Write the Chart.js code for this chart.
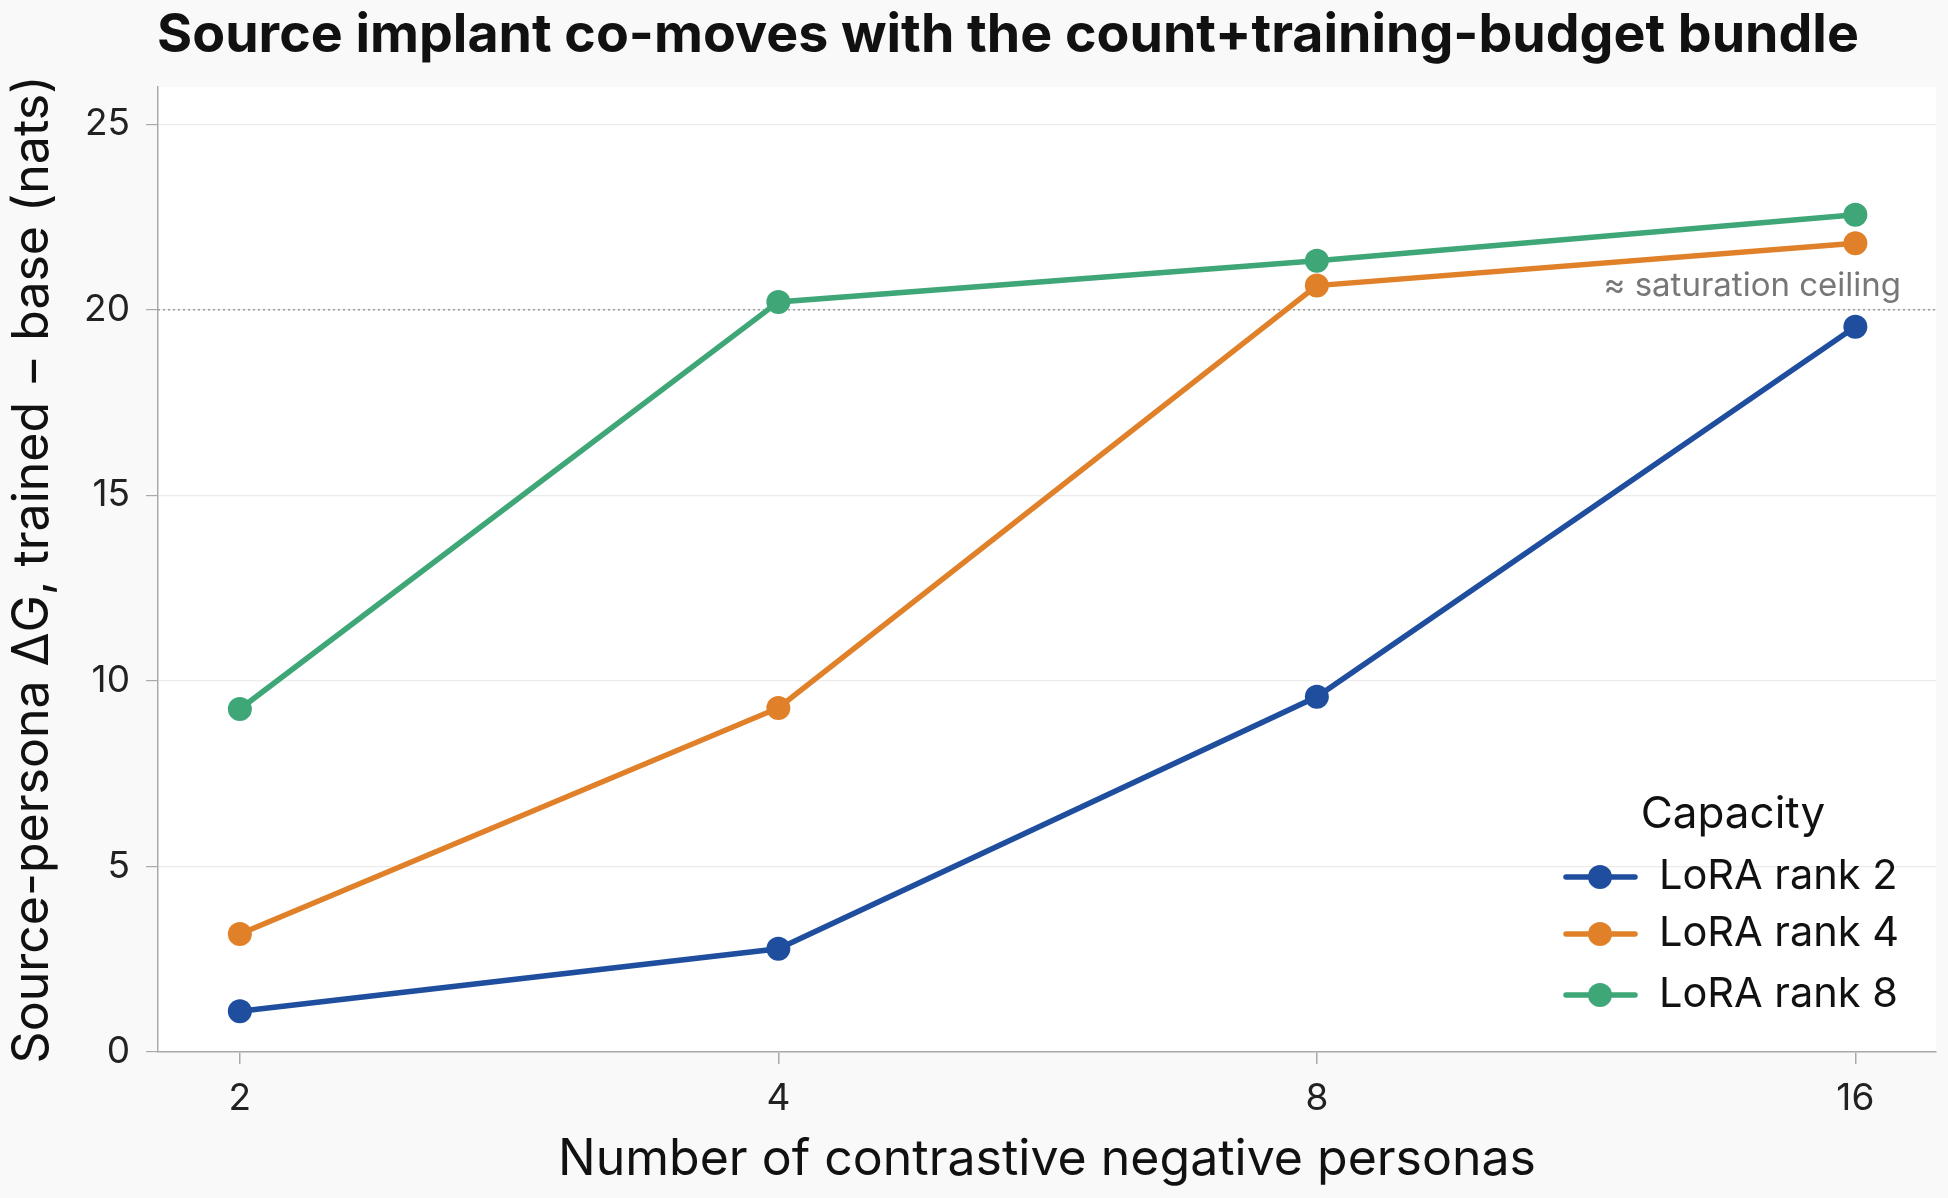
<!DOCTYPE html>
<html>
<head>
<meta charset="utf-8">
<script src="https://cdn.jsdelivr.net/npm/chart.js@4.4.1/dist/chart.umd.min.js"></script>
<style>
  html, body { margin: 0; padding: 0; background: #f9f9f9; }
  #wrap { width: 1948px; height: 1198px; }
</style>
</head>
<body>
<div id="wrap"><canvas id="capacityChart" width="1948" height="1198"></canvas></div>
<script>
// data
const personaCounts = [2, 4, 8, 16];
const loraRank2 = [1.1, 2.78, 9.57, 19.54];
const loraRank4 = [3.18, 9.27, 20.65, 21.79];
const loraRank8 = [9.24, 20.21, 21.32, 22.56];
const seriesNames = ['LoRA rank 2', 'LoRA rank 4', 'LoRA rank 8'];
const yTickValues = [0, 5, 10, 15, 20, 25];
const saturationLevel = 20;

const colors = ['#1f4e9f', '#e0812a', '#3ea677'];
const FONT = 'Inter, "DejaVu Sans", sans-serif';

function toPoints(vals) {
    return personaCounts.map(function (x, i) { return { x: x, y: vals[i] }; });
}

// background: grey page, white plot area
const bgPlugin = {
    id: 'bg',
    beforeDraw: function (chart) {
        const c = chart.ctx, a = chart.chartArea;
        c.save();
        c.fillStyle = '#f9f9f9';
        c.fillRect(0, 0, chart.width, chart.height);
        c.fillStyle = '#ffffff';
        c.fillRect(a.left, a.top, a.right - a.left, a.bottom - a.top);
        c.restore();
    }
};

// dotted ceiling line + label
const ceilingPlugin = {
    id: 'ceiling',
    beforeDatasetsDraw: function (chart) {
        const c = chart.ctx, a = chart.chartArea;
        const y = chart.scales.y.getPixelForValue(saturationLevel);
        c.save();
        c.strokeStyle = '#9a9a9a';
        c.lineWidth = 1.5;
        c.setLineDash([2, 3]);
        c.beginPath();
        c.moveTo(a.left, y);
        c.lineTo(a.right, y);
        c.stroke();
        c.setLineDash([]);
        c.fillStyle = '#777777';
        c.font = '33px ' + FONT;
        c.textAlign = 'right';
        c.textBaseline = 'alphabetic';
        c.fillText('\u2248 saturation ceiling', a.right - 35, y - 14);
        c.restore();
    }
};

// title centred like the original
const titlePlugin = {
    id: 'topTitle',
    afterDraw: function (chart) {
        const c = chart.ctx;
        c.save();
        c.fillStyle = '#111111';
        c.font = 'bold 53.7px ' + FONT;
        c.textAlign = 'center';
        c.textBaseline = 'middle';
        c.fillText('Source implant co-moves with the count+training-budget bundle', 1008, 36);
        c.restore();
    }
};

// legend inside the plot, lower right
const legendPlugin = {
    id: 'innerLegend',
    afterDraw: function (chart) {
        const c = chart.ctx;
        c.save();
        c.fillStyle = '#111111';
        c.font = '44px ' + FONT;
        c.textAlign = 'center';
        c.textBaseline = 'middle';
        c.fillText('Capacity', 1733, 815);
        c.font = '41.5px ' + FONT;
        const rowY = [877, 934, 995];
        chart.data.datasets.forEach(function (ds, i) {
            const y = rowY[i];
            c.strokeStyle = ds.borderColor;
            c.lineWidth = 5.5;
            c.lineCap = 'round';
            c.beginPath();
            c.moveTo(1566, y);
            c.lineTo(1635, y);
            c.stroke();
            c.fillStyle = ds.borderColor;
            c.beginPath();
            c.arc(1600, y, 12, 0, Math.PI * 2);
            c.fill();
            c.fillStyle = '#111111';
            c.textAlign = 'left';
            c.fillText(ds.label, 1659, y);
        });
        c.restore();
    }
};

new Chart(document.getElementById('capacityChart').getContext('2d'), {
    type: 'line',
    data: {
        datasets: [loraRank2, loraRank4, loraRank8].map(function (vals, i) {
            return {
                label: seriesNames[i],
                data: toPoints(vals),
                borderColor: colors[i],
                backgroundColor: colors[i],
                borderWidth: 5.5,
                pointRadius: 12,
                pointHoverRadius: 12,
                pointBorderWidth: 0,
                tension: 0,
                fill: false
            };
        })
    },
    options: {
        responsive: false,
        animation: false,
        devicePixelRatio: 1,
        layout: { padding: { top: 87, right: 12, bottom: 0, left: 0 } },
        plugins: {
            legend: { display: false },
            title: { display: false },
            tooltip: { enabled: false }
        },
        scales: {
            x: {
                type: 'logarithmic',
                min: 1.8,
                max: 17.75,
                afterBuildTicks: function (scale) {
                    scale.ticks = personaCounts.map(function (v) { return { value: v }; });
                },
                afterFit: function (scale) { scale.height = 146; },
                grid: { drawOnChartArea: false, drawTicks: true, tickLength: 12, color: '#aaaaaa', lineWidth: 1.5 },
                border: { color: '#aaaaaa', width: 1.5 },
                ticks: {
                    padding: 13,
                    color: '#222222',
                    font: { family: FONT, size: 37 },
                    maxRotation: 0,
                    callback: function (v) { return String(v); }
                },
                title: {
                    display: true,
                    text: 'Number of contrastive negative personas',
                    color: '#111111',
                    font: { family: FONT, size: 50 },
                    padding: { top: 0, bottom: 8 }
                }
            },
            y: {
                type: 'linear',
                min: 0,
                max: 26,
                afterBuildTicks: function (scale) {
                    scale.ticks = yTickValues.map(function (v) { return { value: v }; });
                },
                afterFit: function (scale) { scale.width = 158; },
                grid: { color: '#ebebeb', lineWidth: 1.2, tickColor: '#aaaaaa', tickLength: 12, drawTicks: true },
                border: { color: '#aaaaaa', width: 1.5 },
                ticks: {
                    padding: 16,
                    color: '#222222',
                    font: { family: FONT, size: 37 }
                },
                title: {
                    display: true,
                    text: 'Source-persona \u0394G, trained \u2212 base (nats)',
                    color: '#111111',
                    font: { family: FONT, size: 50 },
                    padding: { top: 3, bottom: 0 }
                }
            }
        }
    },
    plugins: [bgPlugin, ceilingPlugin, titlePlugin, legendPlugin]
});
</script>
</body>
</html>
